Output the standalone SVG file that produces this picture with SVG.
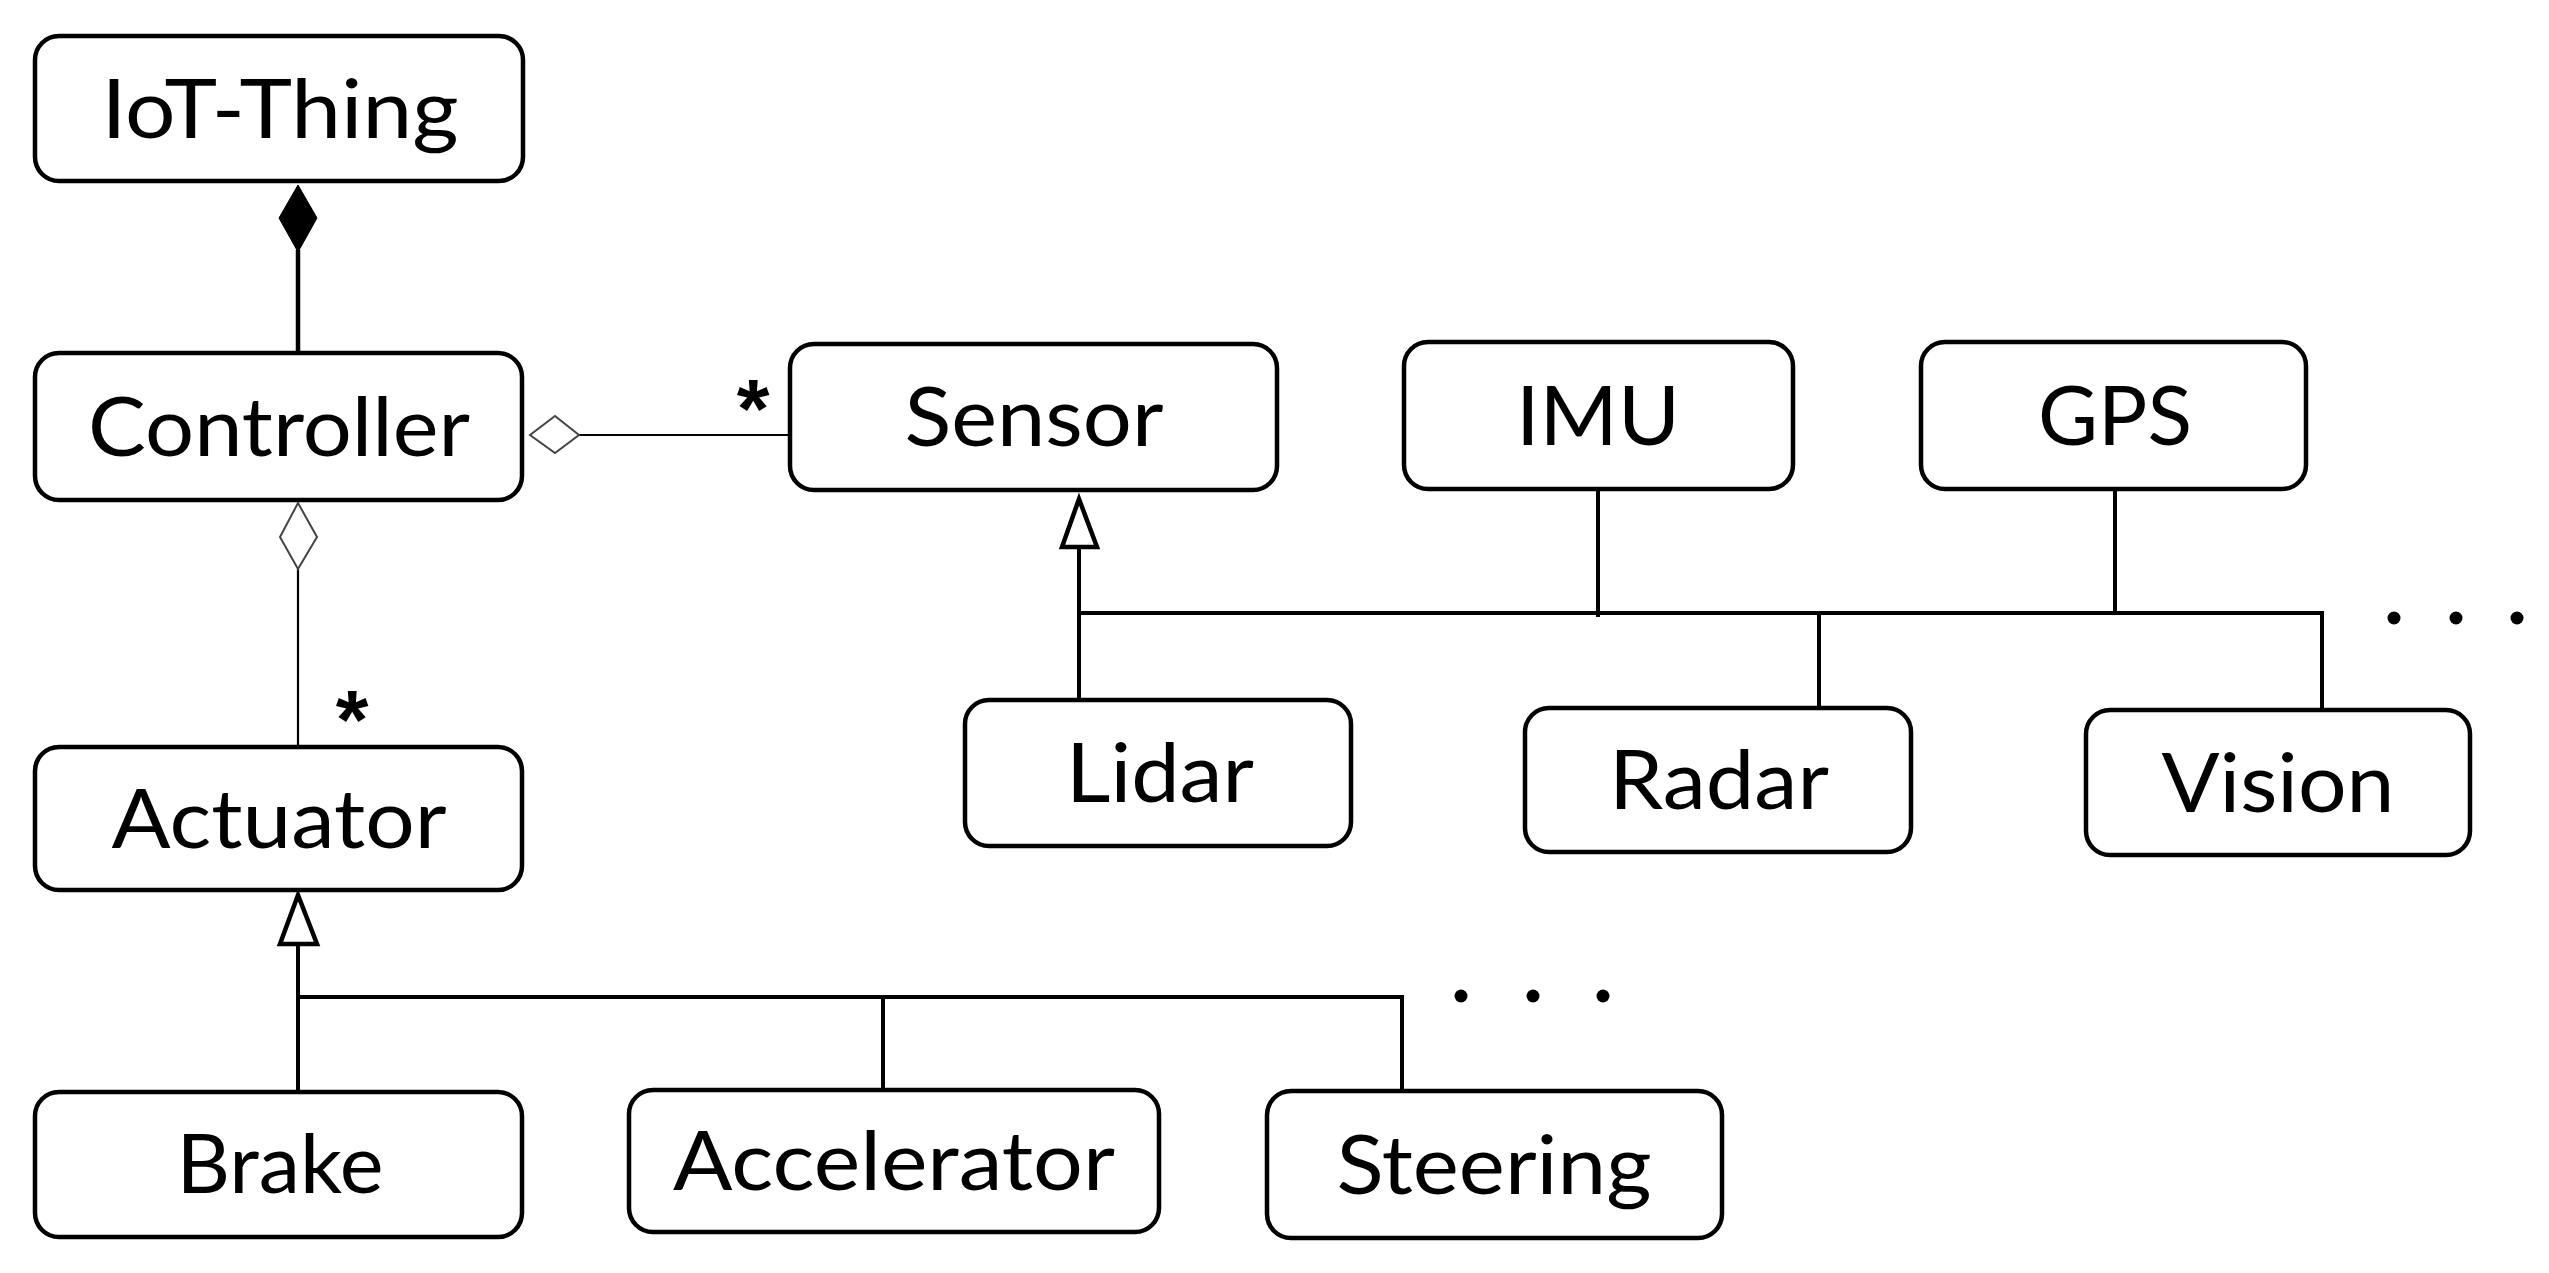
<svg xmlns="http://www.w3.org/2000/svg" width="2549" height="1273" viewBox="0 0 2549 1273">
<style>
.box{fill:#fff;stroke:#000;stroke-width:4.5}
.lbl{font-family:Lato,"Open Sans","Liberation Sans",sans-serif;font-size:81px;fill:#000;text-anchor:middle}
.star{font-family:"Liberation Sans",Arial,sans-serif;font-size:84px;font-weight:bold;fill:#000;text-anchor:middle}
.thick{stroke:#000;stroke-width:4.5;fill:none}
.gen{stroke:#000;stroke-width:4;fill:none}
.thin{stroke:#000;stroke-width:2.2;fill:none}
.odia{fill:#fff;stroke:#444;stroke-width:2}
.tri{fill:#fff;stroke:#000;stroke-width:4.5;stroke-linejoin:miter}
</style>
<rect width="2549" height="1273" fill="#fff"/>
<g id="connectors">
  <line class="thick" x1="298" y1="250" x2="298" y2="353"/>
  <polygon points="298,185 317,218 298,252 279,218" fill="#000" stroke="#000" stroke-width="1"/>
  <line class="thin" x1="579" y1="435" x2="790" y2="435"/>
  <polygon class="odia" points="530,435 555,416 579,435 555,453"/>
  <line class="thin" x1="298" y1="569" x2="298" y2="747"/>
  <polygon class="odia" points="298,503 317,537 298,569 280,537"/>
  <path class="gen" d="M298,944 V1092 M298,997 H1402 V1091 M883,997 V1090"/>
  <polygon class="tri" points="298,895 317,944 280,944"/>
  <path class="gen" d="M1079,547 V700 M1079,613 H2322 V710 M1598,489 V617 M2115,489 V613 M1819,613 V708"/>
  <polygon class="tri" points="1079,499 1097,547 1062,547"/>
  <text class="star" x="753" y="438">*</text>
  <text class="star" x="352" y="749">*</text>
  <circle cx="2394" cy="618" r="6.5"/>
  <circle cx="2456" cy="618" r="6.5"/>
  <circle cx="2517" cy="618" r="6.5"/>
  <circle cx="1461" cy="996" r="6.5"/>
  <circle cx="1533" cy="996" r="6.5"/>
  <circle cx="1603" cy="996" r="6.5"/>
</g>
<g id="iot-thing"><rect class="box" x="35" y="36" width="488" height="145" rx="24"/><text class="lbl" x="280" y="138" textLength="357" lengthAdjust="spacingAndGlyphs">IoT-Thing</text></g>
<g id="controller"><rect class="box" x="35" y="353" width="487" height="147" rx="24"/><text class="lbl" x="279" y="456" textLength="382" lengthAdjust="spacingAndGlyphs">Controller</text></g>
<g id="actuator"><rect class="box" x="35" y="747" width="487" height="143" rx="24"/><text class="lbl" x="279" y="848" textLength="335" lengthAdjust="spacingAndGlyphs">Actuator</text></g>
<g id="brake"><rect class="box" x="35" y="1092" width="487" height="145" rx="24"/><text class="lbl" x="280" y="1193" textLength="207" lengthAdjust="spacingAndGlyphs">Brake</text></g>
<g id="accelerator"><rect class="box" x="629" y="1090" width="530" height="142" rx="24"/><text class="lbl" x="894" y="1190" textLength="442" lengthAdjust="spacingAndGlyphs">Accelerator</text></g>
<g id="steering"><rect class="box" x="1267" y="1091" width="455" height="147" rx="24"/><text class="lbl" x="1494" y="1194" textLength="315" lengthAdjust="spacingAndGlyphs">Steering</text></g>
<g id="sensor"><rect class="box" x="790" y="344" width="487" height="146" rx="24"/><text class="lbl" x="1034" y="446" textLength="259" lengthAdjust="spacingAndGlyphs">Sensor</text></g>
<g id="imu"><rect class="box" x="1404" y="342" width="389" height="147" rx="24"/><text class="lbl" x="1598" y="445" textLength="164" lengthAdjust="spacingAndGlyphs">IMU</text></g>
<g id="gps"><rect class="box" x="1921" y="342" width="385" height="147" rx="24"/><text class="lbl" x="2115" y="445" textLength="154" lengthAdjust="spacingAndGlyphs">GPS</text></g>
<g id="lidar"><rect class="box" x="965" y="700" width="386" height="146" rx="24"/><text class="lbl" x="1160" y="802" textLength="188" lengthAdjust="spacingAndGlyphs">Lidar</text></g>
<g id="radar"><rect class="box" x="1525" y="708" width="386" height="144" rx="24"/><text class="lbl" x="1719" y="809" textLength="220" lengthAdjust="spacingAndGlyphs">Radar</text></g>
<g id="vision"><rect class="box" x="2086" y="710" width="384" height="145" rx="24"/><text class="lbl" x="2278" y="812" textLength="233" lengthAdjust="spacingAndGlyphs">Vision</text></g>
</svg>
